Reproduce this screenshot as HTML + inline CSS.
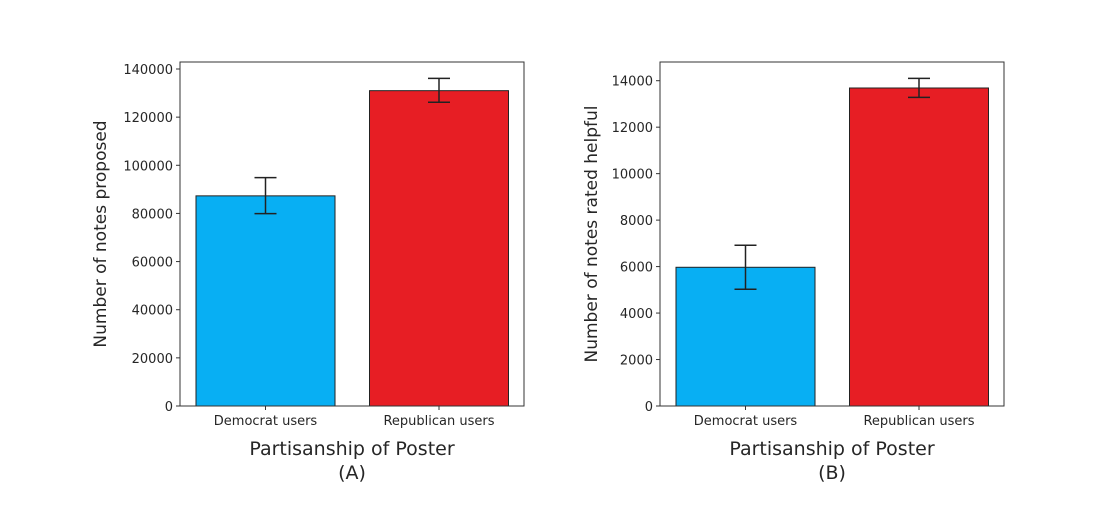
<!DOCTYPE html>
<html><head><meta charset="utf-8"><style>
body{margin:0;background:#fff;}
svg text{font-family:"DejaVu Sans","Liberation Sans",sans-serif;fill:#262626;}
</style></head><body>
<svg id="chart" width="1102" height="500" xmlns="http://www.w3.org/2000/svg"></svg>
<script>
const categories = ["Democrat users", "Republican users"];
const proposedValues = [87300, 131000];
const proposedErrLow = [79900, 126200];
const proposedErrHigh = [94850, 136100];
const proposedTicks = [0, 20000, 40000, 60000, 80000, 100000, 120000, 140000];
const helpfulValues = [5970, 13686];
const helpfulErrLow = [5022, 13280];
const helpfulErrHigh = [6916, 14100];
const helpfulTicks = [0, 2000, 4000, 6000, 8000, 10000, 12000, 14000];
const barColors = ["#08aff3", "#e71e24"];

const svg = document.getElementById('chart');
const NS = 'http://www.w3.org/2000/svg';
function mk(tag, attrs, parent){const e=document.createElementNS(NS,tag);for(const k in attrs)e.setAttribute(k,attrs[k]);(parent||svg).appendChild(e);return e;}

function panel(cfg){
  const g = mk('g',{});
  
  
  const L=cfg.left,R=cfg.left+344,T=62,B=406;
  const y = v => B - v*cfg.pxPer;
  const xc = i => L + 85.5 + i*173.5;
  const bw = 139;
  categories.forEach((c,i)=>{
    const r = mk('rect',{x:xc(i)-bw/2,y:y(cfg.values[i]),width:bw,height:B-y(cfg.values[i]),fill:barColors[i],stroke:'#222','stroke-width':1},g);
    
    
    const e = mk('g',{stroke:'#222','stroke-width':1.5},g);
    
    
    mk('line',{x1:xc(i),x2:xc(i),y1:y(cfg.lo[i]),y2:y(cfg.hi[i])},e);
    mk('line',{x1:xc(i)-11,x2:xc(i)+11,y1:y(cfg.lo[i]),y2:y(cfg.lo[i])},e);
    mk('line',{x1:xc(i)-11,x2:xc(i)+11,y1:y(cfg.hi[i]),y2:y(cfg.hi[i])},e);
    mk('line',{x1:xc(i),x2:xc(i),y1:B,y2:B+4,stroke:'#333'},g);
    const t = mk('text',{x:xc(i),y:B+19,'text-anchor':'middle','font-size':13},g);
    t.textContent=c;
    
    
  });
  cfg.ticks.forEach(v=>{
    mk('line',{x1:L-4,x2:L,y1:y(v),y2:y(v),stroke:'#333'},g);
    const t = mk('text',{x:L-7,y:y(v)+5,'text-anchor':'end','font-size':13},g);
    t.textContent=v;
    
    
  });
  const f = mk('rect',{x:L,y:T,width:R-L,height:B-T,fill:'none',stroke:'#333','stroke-width':1},g);
  
  
  const yl = mk('text',{x:0,y:0,'text-anchor':'middle','font-size':17,transform:`translate(${cfg.ylx},${(T+B)/2}) rotate(-90)`},g);
  yl.textContent=cfg.ylabel;
  
  
  const xl = mk('text',{x:(L+R)/2,y:455,'text-anchor':'middle','font-size':19},g);
  xl.textContent='Partisanship of Poster';
  
  
  const pl = mk('text',{x:(L+R)/2,y:479,'text-anchor':'middle','font-size':19},g);
  pl.textContent=cfg.panelLabel;
  
  
}
panel({name:'panel-a',left:180,pxPer:337/140000,values:proposedValues,lo:proposedErrLow,hi:proposedErrHigh,ticks:proposedTicks,ylabel:'Number of notes proposed',ylx:106,panelLabel:'(A)'});
panel({name:'panel-b',left:660,pxPer:325.3/14000,values:helpfulValues,lo:helpfulErrLow,hi:helpfulErrHigh,ticks:helpfulTicks,ylabel:'Number of notes rated helpful',ylx:597,panelLabel:'(B)'});
</script>
</body></html>
